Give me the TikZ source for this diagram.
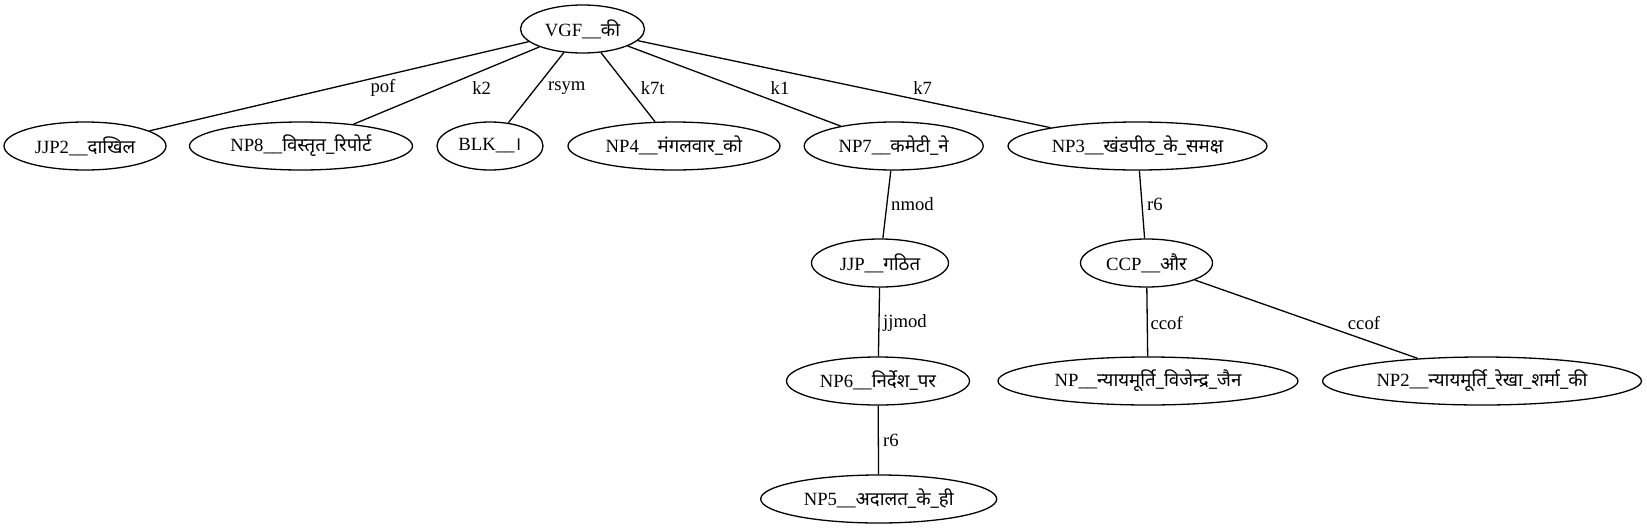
\documentclass[tikz,border=0pt]{standalone}
\usepackage{fontspec}
\setmainfont{Liberation Serif}
\newfontfamily\deva[Script=Devanagari,Scale=1.0]{Noto Sans}
\usetikzlibrary{shapes.geometric}
\tikzset{
  tok/.style={draw, ellipse, line width=1.3pt, inner sep=0pt, minimum height=48pt, font=\fontsize{18.67}{22}\selectfont},
  lbl/.style={inner sep=0pt, font=\fontsize{18.67}{22}\selectfont},
  dep/.style={line width=1.3pt}
}
\begin{document}
\begin{tikzpicture}[x=1pt,y=-1pt]
\useasboundingbox (0,0) rectangle (1647,528);
\node[tok, minimum width=124pt] (vgf) at (582.5,29) {VGF\_\_{\deva की}};
\node[tok, minimum width=162pt] (jjp2) at (85,146) {JJP2\_\_{\deva दाखिल}};
\node[tok, minimum width=223pt] (np8) at (301,146) {NP8\_\_{\deva विस्तृत\_रिपोर्ट}};
\node[tok, minimum width=106pt] (blk) at (490,146) {BLK\_\_{\deva ।}};
\node[tok, minimum width=212pt] (np4) at (674,146) {NP4\_\_{\deva मंगलवार\_को}};
\node[tok, minimum width=179pt] (np7) at (893.7,146) {NP7\_\_{\deva कमेटी\_ने}};
\node[tok, minimum width=259pt] (np3) at (1137.5,146) {NP3\_\_{\deva खंडपीठ\_के\_समक्ष}};
\node[tok, minimum width=137pt] (jjp) at (880,263) {JJP\_\_{\deva गठित}};
\node[tok, minimum width=132pt] (ccp) at (1146.5,263) {CCP\_\_{\deva और}};
\node[tok, minimum width=183pt] (np6) at (878,381) {NP6\_\_{\deva निर्देश\_पर}};
\node[tok, minimum width=300pt] (np) at (1148,381) {NP\_\_{\deva न्यायमूर्ति\_विजेन्द्र\_जैन}};
\node[tok, minimum width=319pt] (np2) at (1482,381) {NP2\_\_{\deva न्यायमूर्ति\_रेखा\_शर्मा\_की}};
\node[tok, minimum width=236pt] (np5) at (878.7,499) {NP5\_\_{\deva अदालत\_के\_ही}};

\draw[dep] (vgf) -- (jjp2);
\draw[dep] (vgf) -- (np8);
\draw[dep] (vgf) -- (blk);
\draw[dep] (vgf) -- (np4);
\draw[dep] (vgf) -- (np7);
\draw[dep] (vgf) -- (np3);
\draw[dep] (np7) -- (jjp);
\draw[dep] (jjp) -- (np6);
\draw[dep] (np6) -- (np5);
\draw[dep] (np3) -- (ccp);
\draw[dep] (ccp) -- (np);
\draw[dep] (ccp) -- (np2);

\node[lbl] (lpof) at (383,88) {pof};
\node[lbl] (lk2) at (481.7,88) {k2};
\node[lbl] (lrsym) at (566.7,88) {rsym};
\node[lbl] (lk7t) at (652.7,88) {k7t};
\node[lbl] (lk1) at (780,88) {k1};
\node[lbl] (lk7) at (922.7,88) {k7};
\node[lbl] (lnmod) at (912.5,204) {nmod};
\node[lbl] (lr6a) at (1155,204) {r6};
\node[lbl] (ljjmod) at (905,323) {jjmod};
\node[lbl] (lccofa) at (1166.7,322.7) {ccof};
\node[lbl] (lccofb) at (1364,322.7) {ccof};
\node[lbl] (lr6b) at (891,440) {r6};
\end{tikzpicture}
\end{document}
